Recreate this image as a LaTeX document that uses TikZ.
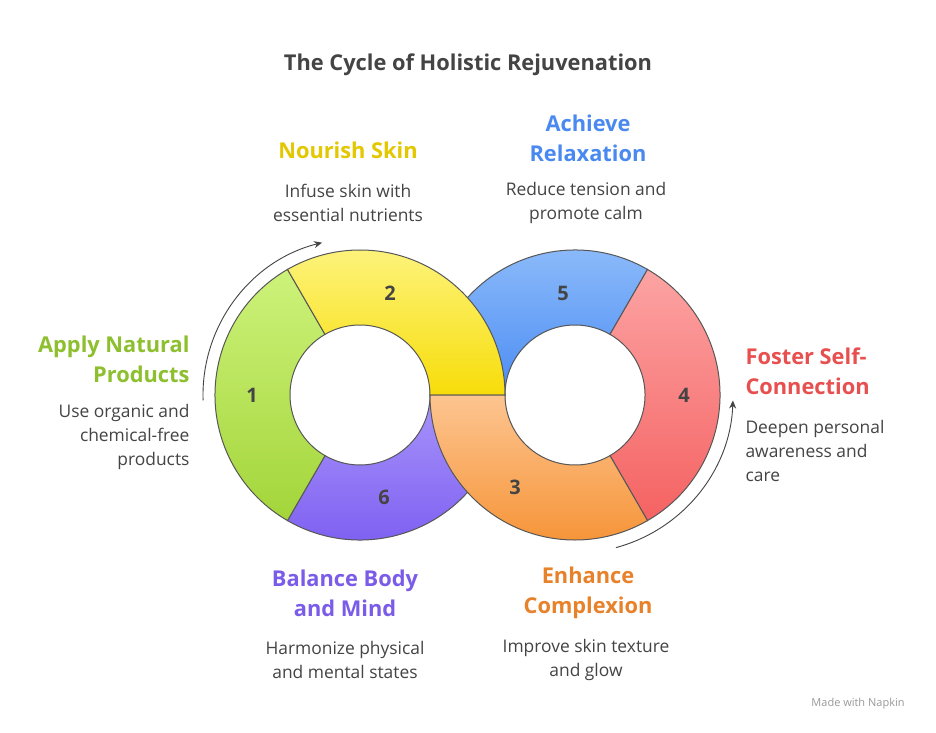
\documentclass[tikz,border=0pt]{standalone}
\usepackage{fontspec}
\setmainfont{Open Sans}
\usetikzlibrary{arrows.meta,calc}
\definecolor{cgreen}{HTML}{8DBF2E}
\definecolor{cyellow}{HTML}{E3C700}
\definecolor{cblue}{HTML}{4A8AF0}
\definecolor{cred}{HTML}{E85050}
\definecolor{corange}{HTML}{E8822A}
\definecolor{cpurple}{HTML}{7B5CE8}
\definecolor{txt}{HTML}{444444}
\definecolor{bluetop}{HTML}{93C0FB}
\definecolor{bluebot}{HTML}{4B8CF3}
\definecolor{redtop}{HTML}{FCA3A3}
\definecolor{redbot}{HTML}{F56262}
\definecolor{orgtop}{HTML}{FDC590}
\definecolor{orgbot}{HTML}{F6953A}
\definecolor{purtop}{HTML}{A895FB}
\definecolor{purbot}{HTML}{7A5AF0}
\definecolor{grntop}{HTML}{CDF27A}
\definecolor{grnbot}{HTML}{A3D53A}
\definecolor{yeltop}{HTML}{FDF37A}
\definecolor{yelbot}{HTML}{F7DD0A}
\tikzset{
 seg/.style={draw=txt!90,line width=1pt},
 num/.style={font=\fontsize{20}{22}\selectfont\bfseries,text=txt},
 head/.style={font=\fontsize{21.8}{30}\selectfont\bfseries,align=center},
 body/.style={font=\fontsize{17.4}{24}\selectfont,text=txt,align=center},
 cyc/.style={draw=txt,line width=0.9pt,-{Stealth[length=8pt,width=7pt]}}
}
\newcommand{\annseg}[4]{%
 \path[#4] ($(#1)+(#2:145)$) arc[start angle=#2,end angle=#3,radius=145] -- ($(#1)+(#3:70)$) arc[start angle=#3,end angle=#2,radius=70] -- cycle;}
\begin{document}
\begin{tikzpicture}[x=1pt,y=1pt]
\useasboundingbox (0,0) rectangle (936,732);
\fill[white] (0,0) rectangle (936,732);
\coordinate (L) at (360,337);
\coordinate (R) at (575,337);
\annseg{R}{60}{180}{seg,top color=bluetop,bottom color=bluebot}
\annseg{L}{240}{360}{seg,top color=purtop,bottom color=purbot}
\annseg{L}{120}{240}{seg,top color=grntop,bottom color=grnbot}
\annseg{R}{-60}{60}{seg,top color=redtop,bottom color=redbot}
\annseg{L}{0}{120}{seg,top color=yeltop,bottom color=yelbot}
\annseg{R}{180}{300}{seg,top color=orgtop,bottom color=orgbot}
\node[num] (n1) at (252,337) {1};
\node[num] (n2) at (390,439) {2};
\node[num] (n3) at (515,245) {3};
\node[num] (n4) at (684,337) {4};
\node[num] (n5) at (563,439) {5};
\node[num] (n6) at (384,235) {6};
\coordinate (a1s) at ($(L)+(182:157)$);
\draw[cyc] (a1s) arc[start angle=182,end angle=104,radius=157];
\coordinate (a2s) at ($(R)+(-75:158)$);
\draw[cyc] (a2s) arc[start angle=-75,end angle=-2,radius=158];
\node[font=\fontsize{21.8}{24}\selectfont\bfseries,text=txt] (title) at (468,667) {The Cycle of Holistic Rejuvenation};
\node[head,text=cyellow] (h2) at (348,582) {Nourish Skin};
\node[body] (b2) at (348,529) {Infuse skin with\\essential nutrients};
\node[head,text=cblue] (h5) at (588,594) {Achieve\\Relaxation};
\node[body] (b5) at (586,529) {Reduce tension and\\promote calm};
\node[head,text=cgreen,align=right,anchor=east] (h1) at (193,373) {Apply Natural\\Products};
\node[body,align=right,anchor=east] (b1) at (193,295) {Use organic and\\chemical-free\\products};
\node[head,text=cred,align=left,anchor=west] (h4) at (742,361) {Foster Self-\\Connection};
\node[body,align=left,anchor=west] (b4) at (742,281) {Deepen personal\\awareness and\\care};
\node[head,text=cpurple] (h6) at (345,139) {Balance Body\\and Mind};
\node[body] (b6) at (345,72) {Harmonize physical\\and mental states};
\node[head,text=corange] (h3) at (588,139) {Enhance\\Complexion};
\node[body] (b3) at (586,72) {Improve skin texture\\and glow};
\node[font=\fontsize{11}{12}\selectfont,text=gray!80] (mw) at (858,28) {Made with Napkin};
\end{tikzpicture}
\end{document}
